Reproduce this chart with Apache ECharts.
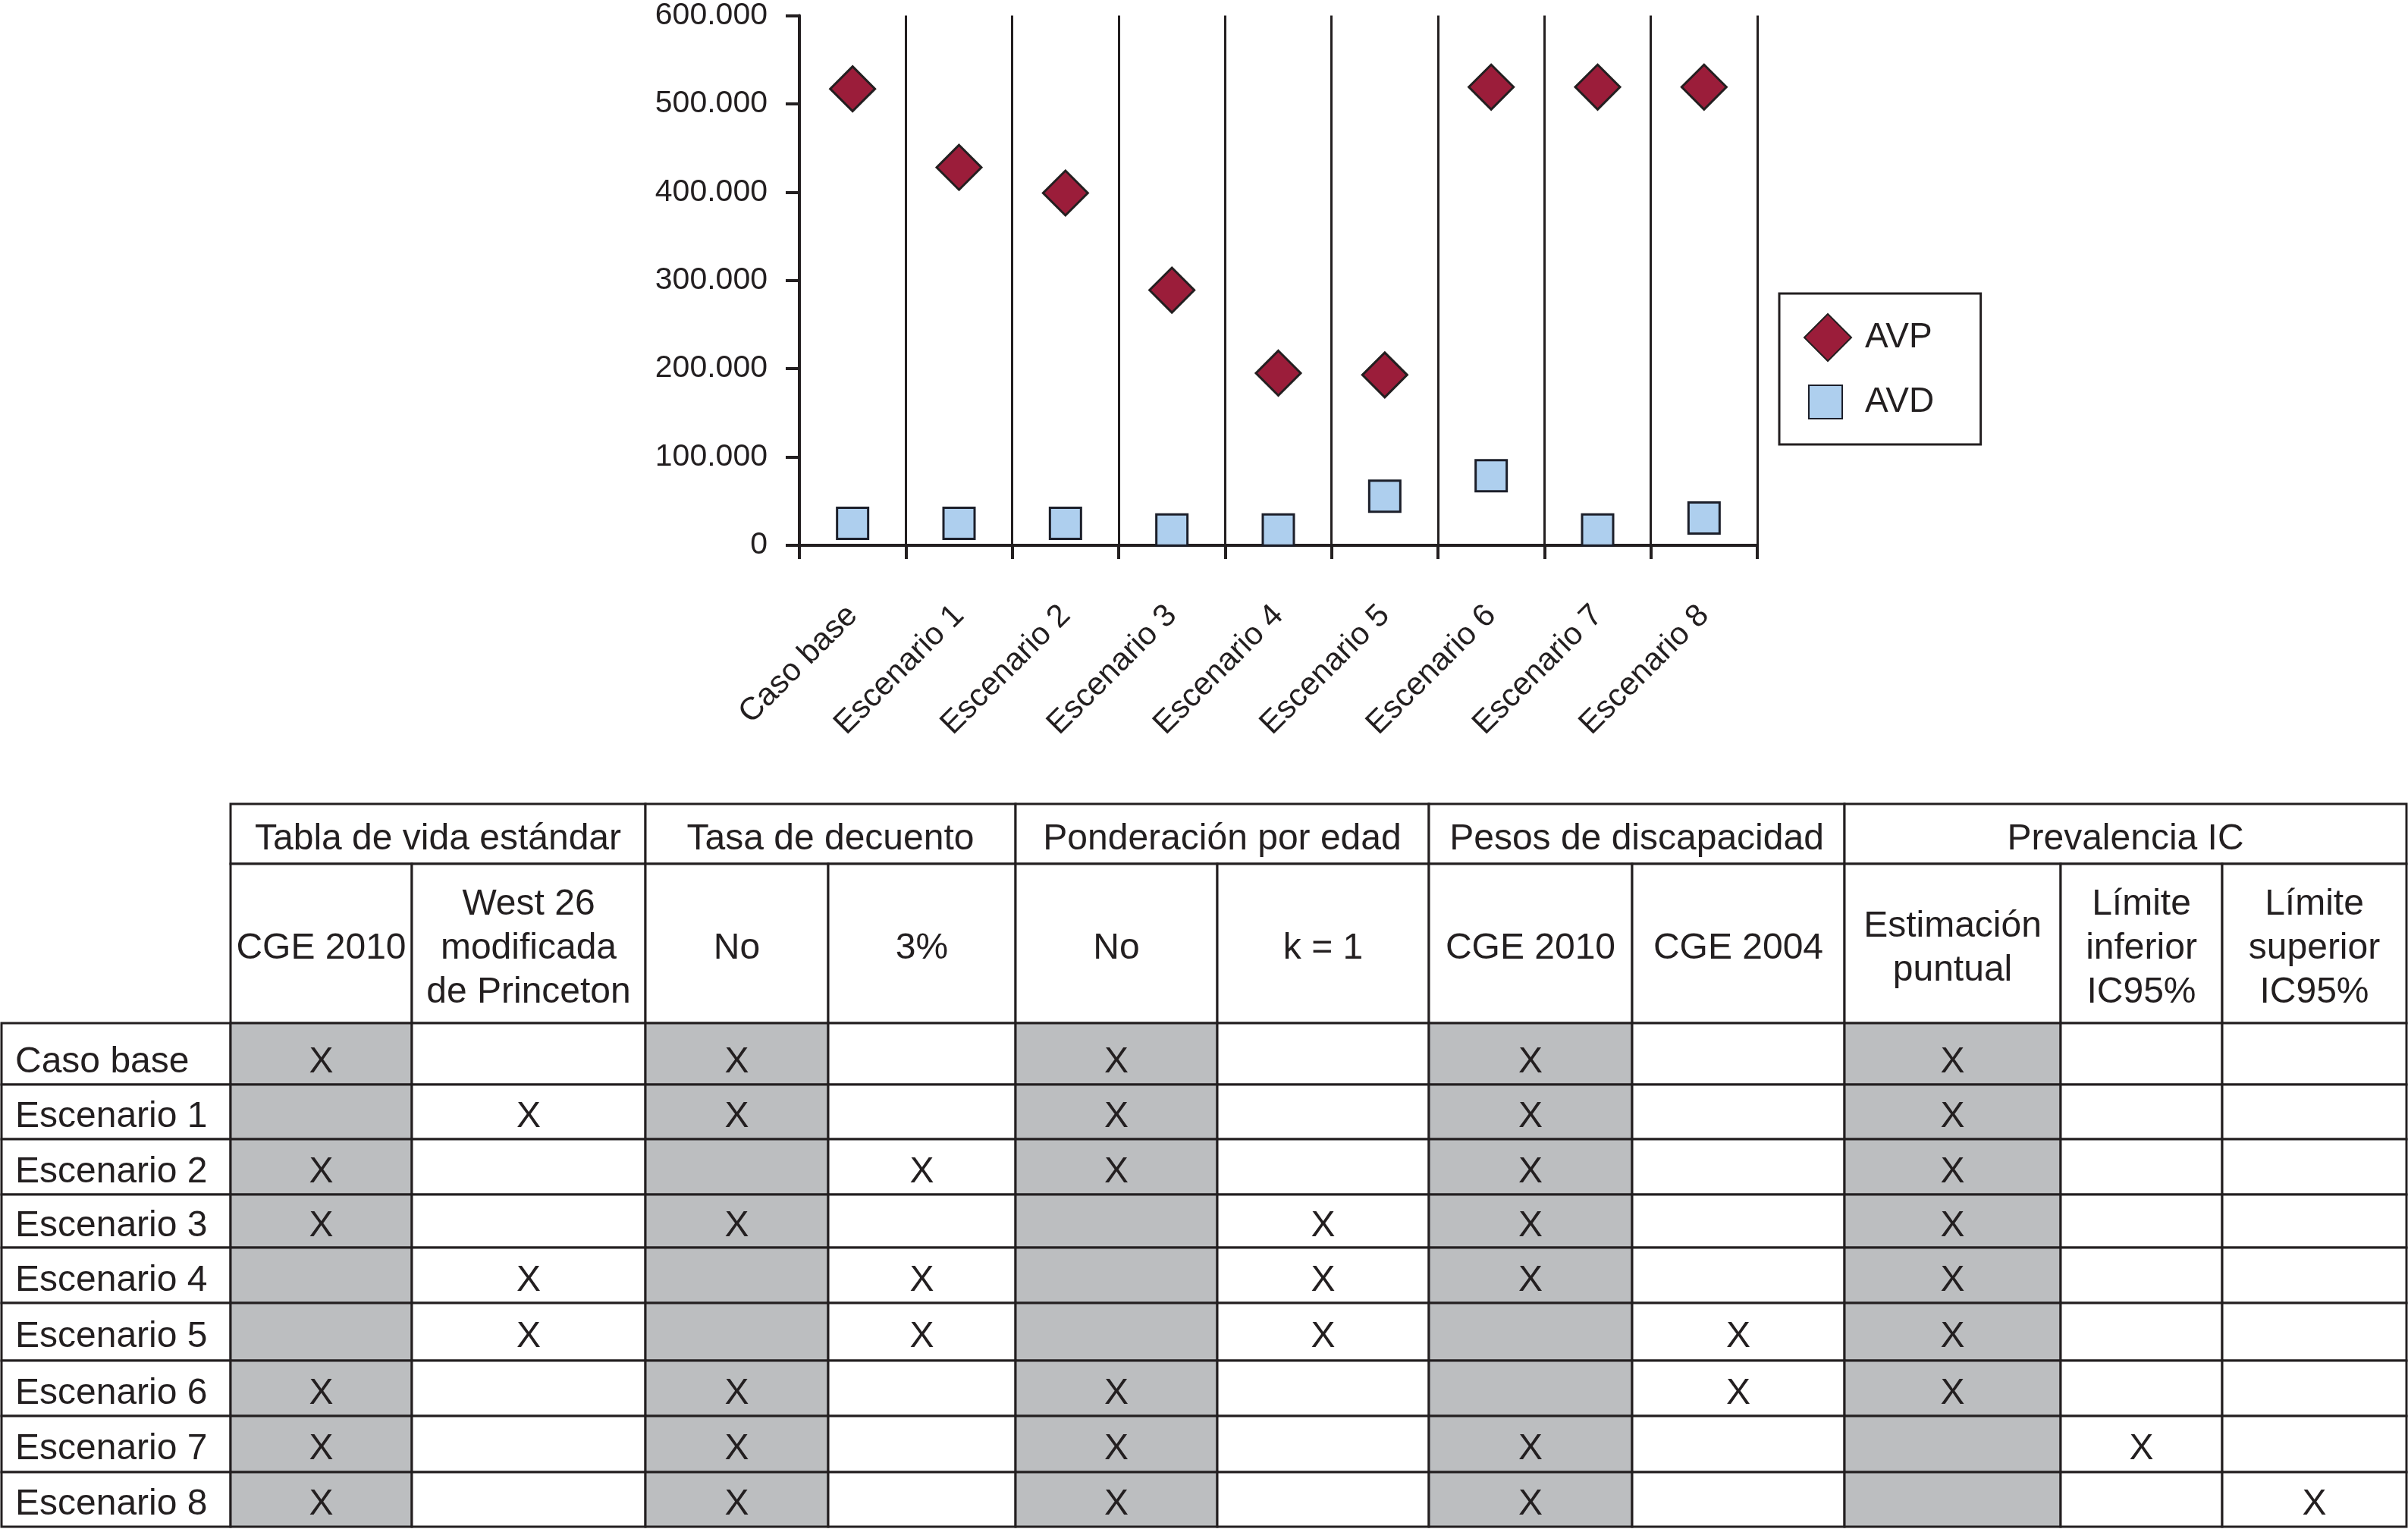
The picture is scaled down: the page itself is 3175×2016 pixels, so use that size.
<!DOCTYPE html>
<html>
<head>
<meta charset="utf-8">
<script src="https://cdn.jsdelivr.net/npm/echarts@6/dist/echarts.min.js"></script>
<style>
html,body{margin:0;padding:0;background:#ffffff;}
#chart{width:3175px;height:2016px;}
</style>
</head>
<body>
<div id="chart"></div>
<script>
// ---------- data ----------
const categories = ['Caso base','Escenario 1','Escenario 2','Escenario 3','Escenario 4','Escenario 5','Escenario 6','Escenario 7','Escenario 8'];
const avpValues = [517000, 428000, 399000, 289000, 195000, 193000, 519000, 519000, 519000];
const avdValues = [25000, 25000, 25000, 17500, 17500, 55700, 78900, 17500, 30900];
const seriesNames = ['AVP', 'AVD'];

const groupNames = ['Tabla de vida estándar', 'Tasa de decuento', 'Ponderación por edad', 'Pesos de discapacidad', 'Prevalencia IC'];
const groupOptions = [
  ['CGE 2010', 'West 26\nmodificada\nde Princeton'],
  ['No', '3%'],
  ['No', 'k = 1'],
  ['CGE 2010', 'CGE 2004'],
  ['Estimación\npuntual', 'Límite\ninferior\nIC95%', 'Límite\nsuperior\nIC95%']
];
// chosen option index per group, for each scenario (row order = categories)
const selections = [
  [0, 0, 0, 0, 0],
  [1, 0, 0, 0, 0],
  [0, 1, 0, 0, 0],
  [0, 0, 1, 0, 0],
  [1, 1, 1, 0, 0],
  [1, 1, 1, 1, 0],
  [0, 0, 0, 1, 0],
  [0, 0, 0, 0, 1],
  [0, 0, 0, 0, 2]
];
const markText = 'X';

// ---------- layout (table geometry, not data) ----------
const colWidths = [302, 239, 308, 241, 247, 266, 279, 268, 280, 285, 213, 243];
const rowHeights = [79, 210, 81, 72, 73, 70, 73, 76, 73, 74, 72];
const colEdges = [0]; colWidths.forEach(w => colEdges.push(colEdges[colEdges.length - 1] + w));
const rowEdges = [0]; rowHeights.forEach(h => rowEdges.push(rowEdges[rowEdges.length - 1] + h));
const tableW = colEdges[colEdges.length - 1];
const tableH = rowEdges[rowEdges.length - 1];

const INK = '#231f20';
const GRAY = '#bcbec0';
const FONT = '"Liberation Sans", Arial, Helvetica, sans-serif';

// ---------- build table cells ----------
const cells = [];
let startCol = 1;
groupNames.forEach((g, gi) => {
  const n = groupOptions[gi].length;
  cells.push({col: startCol, row: 0, span: n, text: g, fill: '#ffffff', align: 'center'});
  groupOptions[gi].forEach((o, oi) => {
    cells.push({col: startCol + oi, row: 1, span: 1, text: o, fill: '#ffffff', align: 'center'});
  });
  startCol += n;
});
categories.forEach((name, ri) => {
  const row = ri + 2;
  cells.push({col: 0, row: row, span: 1, text: name, fill: '#ffffff', align: 'left'});
  let c = 1;
  groupOptions.forEach((opts, gi) => {
    opts.forEach((o, oi) => {
      cells.push({
        col: c + oi, row: row, span: 1,
        text: selections[ri][gi] === oi ? markText : '',
        fill: oi === 0 ? GRAY : '#ffffff',
        align: 'center'
      });
    });
    c += opts.length;
  });
});

function renderCell(params, api) {
  const cell = cells[params.dataIndex];
  const p0 = api.coord([colEdges[cell.col], rowEdges[cell.row]]);
  const p1 = api.coord([colEdges[cell.col + cell.span], rowEdges[cell.row + 1]]);
  const w = p1[0] - p0[0];
  const h = p1[1] - p0[1];
  const dy = cell.row === 2 ? 11 : 7;
  return {
    type: 'group',
    children: [
      {
        type: 'rect',
        shape: {x: p0[0], y: p0[1], width: w, height: h},
        style: {fill: cell.fill, stroke: INK, lineWidth: 3}
      },
      {
        type: 'text',
        style: {
          text: cell.text,
          x: cell.align === 'left' ? p0[0] + 18 : p0[0] + w / 2,
          y: p0[1] + h / 2 + dy,
          align: cell.align,
          verticalAlign: 'middle',
          fontSize: 48,
          fontFamily: FONT,
          lineHeight: 58,
          fill: INK
        }
      }
    ]
  };
}

function fmtThousands(v) {
  return String(v).replace(/\B(?=(\d{3})+(?!\d))/g, '.');
}

const chart = echarts.init(document.getElementById('chart'), null, {renderer: 'canvas'});
chart.setOption({
  backgroundColor: '#ffffff',
  animation: false,
  textStyle: {fontFamily: FONT, color: INK},
  legend: [
    {
      data: [seriesNames[0]],
      left: 2346, top: 387,
      padding: [26, 64, 109, 32],
      borderColor: INK, borderWidth: 3,
      itemWidth: 62, itemHeight: 62,
      textStyle: {fontSize: 46, color: INK, fontFamily: FONT, padding: [0, 0, 0, 13]}
    },
    {
      data: [seriesNames[1]],
      left: 2384, top: 507,
      padding: 0,
      itemWidth: 44, itemHeight: 44,
      textStyle: {fontSize: 46, color: INK, fontFamily: FONT, padding: [0, 0, 0, 25]}
    }
  ],
  grid: [
    {left: 1054, top: 19, width: 1263, height: 700, containLabel: false},
    {left: 2, top: 1060, width: 3171, height: 953, containLabel: false}
  ],
  xAxis: [
    {
      gridIndex: 0,
      type: 'category',
      data: categories,
      boundaryGap: true,
      axisLine: {lineStyle: {color: INK, width: 4}},
      axisTick: {show: true, interval: 0, length: 18, lineStyle: {color: INK, width: 4}},
      splitLine: {show: true, interval: 0, lineStyle: {color: INK, width: 3}},
      axisLabel: {interval: 0, rotate: 45, margin: 86, fontSize: 42, color: INK, fontFamily: FONT}
    },
    {gridIndex: 1, type: 'value', min: 0, max: tableW, show: false}
  ],
  yAxis: [
    {
      gridIndex: 0,
      type: 'value',
      min: 0, max: 600000, interval: 100000,
      axisLine: {show: true, lineStyle: {color: INK, width: 4}},
      axisTick: {show: true, length: 18, lineStyle: {color: INK, width: 4}},
      splitLine: {show: false},
      axisLabel: {margin: 42, fontSize: 41, color: INK, fontFamily: FONT, formatter: fmtThousands}
    },
    {gridIndex: 1, type: 'value', min: 0, max: tableH, inverse: true, show: false}
  ],
  series: [
    {
      name: seriesNames[0],
      type: 'scatter',
      xAxisIndex: 0, yAxisIndex: 0,
      data: avpValues,
      symbol: 'diamond',
      symbolSize: 59,
      itemStyle: {color: '#9b1d3a', borderColor: INK, borderWidth: 3, opacity: 1},
      z: 3
    },
    {
      name: seriesNames[1],
      type: 'scatter',
      xAxisIndex: 0, yAxisIndex: 0,
      data: avdValues,
      symbol: 'rect',
      symbolSize: 41,
      itemStyle: {color: '#aecfee', borderColor: '#1c1f2a', borderWidth: 3, opacity: 1},
      z: 2
    },
    {
      name: 'tabla',
      type: 'custom',
      xAxisIndex: 1, yAxisIndex: 1,
      data: cells.map(c => [c.col, c.row]),
      renderItem: renderCell,
      clip: false,
      silent: true
    }
  ]
});
</script>
</body>
</html>
